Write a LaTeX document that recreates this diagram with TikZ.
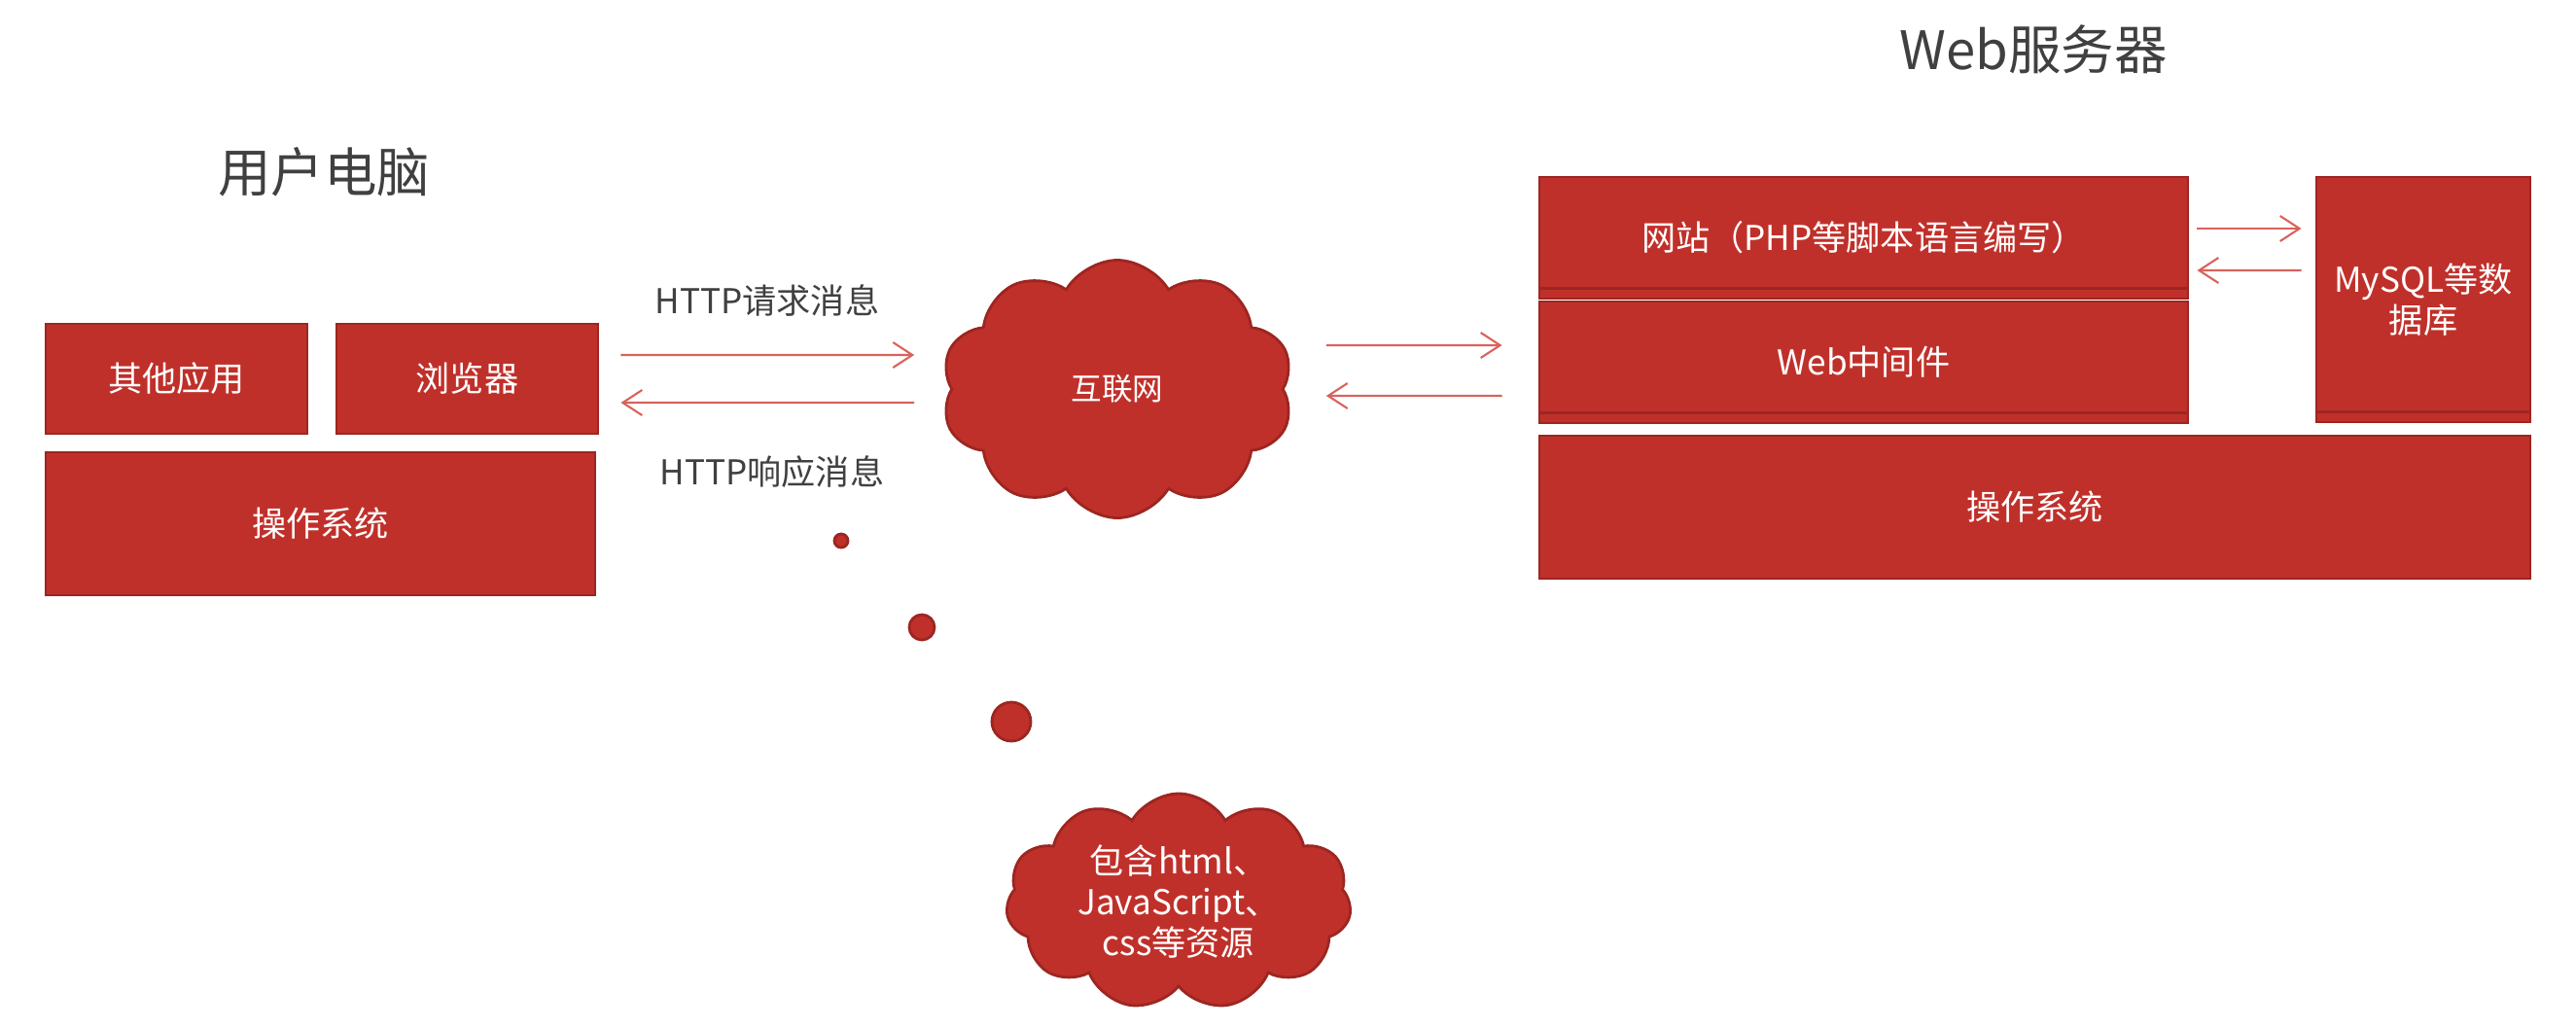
\documentclass[tikz,border=0pt]{standalone}
\usepackage{fontspec}
\setmainfont{Noto Sans CJK SC}
\usepackage{xcolor}
\usetikzlibrary{arrows.meta, positioning, shapes.symbols}

\definecolor{boxred}{HTML}{C0302A}
\definecolor{edgered}{HTML}{9C2621}
\definecolor{arrowred}{HTML}{D9625C}
\definecolor{titlegray}{HTML}{404040}

\begin{document}
\begin{tikzpicture}[
  layer/.style={
    draw=edgered, fill=boxred, line width=0.8pt,
    text=white, font=\fontsize{10}{12}\selectfont, align=center,
    inner sep=0pt
  },
  bevel/.style={
    path picture={\draw[edgered, line width=1pt]
      ([yshift=3pt]path picture bounding box.south west) --
      ([yshift=3pt]path picture bounding box.south east);}
  },
  puff/.style={
    cloud, cloud puffs=10, cloud puff arc=120, cloud ignores aspect,
    draw=edgered, fill=boxred, line width=0.8pt,
    text=white, align=center, inner sep=0pt
  },
  bubble/.style={circle, draw=edgered, fill=boxred, line width=0.8pt, inner sep=0pt},
  msg/.style={arrowred, line width=0.6pt, -{Straight Barb[length=2mm, width=2.6mm]}},
  title/.style={text=titlegray, font=\fontsize{15.5}{18}\selectfont},
  caption/.style={text=titlegray, font=\fontsize{10}{12}\selectfont}
]
\useasboundingbox (0,0) rectangle (26.49,-10.56);

% Titles
\node[title] (usrtitle) at (3.33,-1.77) {用户电脑};
\node[title] (srvtitle) at (20.91,-0.51) {Web服务器};

% User computer
\node[layer, minimum width=2.69cm, minimum height=1.13cm] (other) at (1.815,-3.895) {其他应用};
\node[layer, minimum width=2.69cm, minimum height=1.13cm] (browser) at (4.805,-3.895) {浏览器};
\node[layer, minimum width=5.65cm, minimum height=1.47cm] (oscl) at (3.295,-5.385) {操作系统};

% Internet
\node[puff, minimum width=3.62cm, minimum height=2.65cm, font=\fontsize{9}{11}\selectfont] (net) at (11.49,-4.00) {互联网};

% Web server
\node[layer, bevel, minimum width=6.67cm, minimum height=1.25cm] (site) at (19.165,-2.445) {网站（PHP等脚本语言编写）};
\node[layer, bevel, minimum width=6.67cm, minimum height=1.25cm] (mid) at (19.165,-3.725) {Web中间件};
\node[layer, bevel, minimum width=2.20cm, minimum height=2.52cm] (db) at (24.92,-3.08) {MySQL等数\\据库};
\node[layer, minimum width=10.19cm, minimum height=1.47cm] (ossrv) at (20.925,-5.215) {操作系统};

% Messages
\draw[msg] ([shift={(0.22,0.245)}]browser.east) -- ([shift={(-0.37,0.35)}]net.west);
\draw[msg] ([shift={(-0.37,-0.14)}]net.west) -- ([shift={(0.22,-0.245)}]browser.east);
\node[caption] (reqlbl) at (7.89,-3.09) {HTTP请求消息};
\node[caption] (resplbl) at (7.94,-4.85) {HTTP响应消息};

\draw[msg] ([shift={(0.43,0.45)}]net.east) -- ([shift={(-0.37,0.175)}]mid.west);
\draw[msg] ([shift={(-0.37,-0.345)}]mid.west) -- ([shift={(0.43,-0.07)}]net.east);

\draw[msg] ([shift={(0.08,0.095)}]site.east) -- ([shift={(-0.14,0.73)}]db.west);
\draw[msg] ([shift={(-0.14,0.30)}]db.west) -- ([shift={(0.08,-0.335)}]site.east);

% Thought bubble
\node[bubble, minimum size=0.14cm] (dot1) at (8.65,-5.56) {};
\node[bubble, minimum size=0.26cm] (dot2) at (9.48,-6.45) {};
\node[bubble, minimum size=0.40cm] (dot3) at (10.40,-7.42) {};
\node[puff, cloud puffs=11, minimum width=3.55cm, minimum height=2.22cm, font=\fontsize{10}{12}\selectfont] (res) at (12.12,-9.27) {包含html、\\JavaScript、\\css等资源};

\end{tikzpicture}
\end{document}
